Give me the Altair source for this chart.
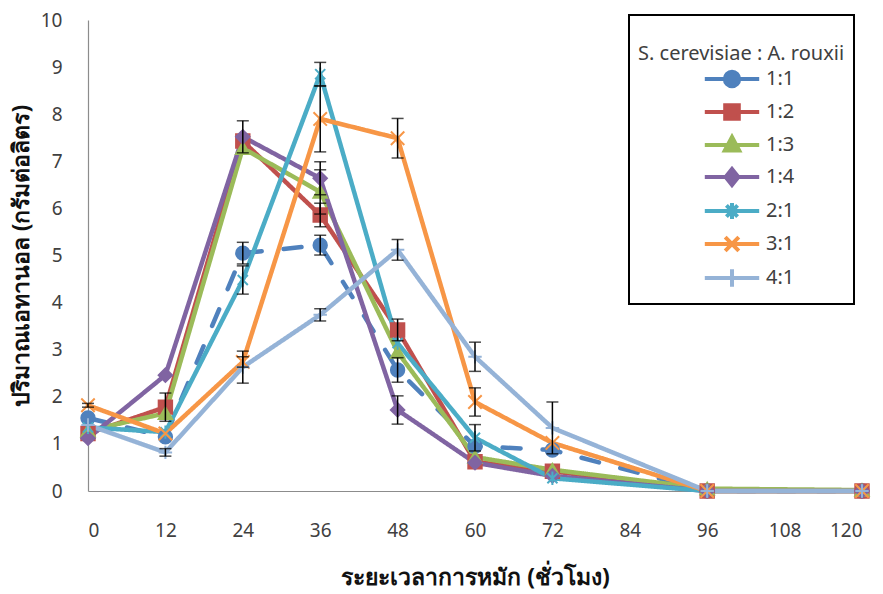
import altair as alt
import pandas as pd

# Sampling times (hours of fermentation)
hours = [0, 12, 24, 36, 48, 60, 72, 96, 120]

# Inoculum ratios S. cerevisiae : A. rouxii
series_names = ["1:1", "1:2", "1:3", "1:4", "2:1", "3:1", "4:1"]
series_colors = ["#4F81BD", "#C0504D", "#9BBB59", "#8064A2", "#4BACC6", "#F79646", "#95B3D7"]

# Ethanol concentration (g/L) per ratio
eth_1_1 = [1.55, 1.15, 5.05, 5.22, 2.57, 0.95, 0.87, 0.0, 0.0]
eth_1_2 = [1.22, 1.78, 7.43, 5.86, 3.42, 0.62, 0.42, 0.0, 0.0]
eth_1_3 = [1.28, 1.65, 7.28, 6.35, 2.95, 0.72, 0.45, 0.05, 0.02]
eth_1_4 = [1.12, 2.46, 7.52, 6.64, 1.72, 0.60, 0.32, 0.0, 0.0]
eth_2_1 = [1.35, 1.25, 4.48, 8.85, 3.14, 1.13, 0.27, 0.0, 0.0]
eth_3_1 = [1.82, 1.22, 2.74, 7.90, 7.49, 1.89, 1.02, 0.0, 0.0]
eth_4_1 = [1.40, 0.82, 2.63, 3.74, 5.12, 2.85, 1.34, 0.0, 0.0]

# Standard deviations (0 = no error bar)
sd_1_1 = [0.0, 0.0, 0.23, 0.21, 0.26, 0.0, 0.0, 0.0, 0.0]
sd_1_2 = [0.0, 0.30, 0.0, 0.25, 0.23, 0.0, 0.0, 0.0, 0.0]
sd_1_3 = [0.0, 0.0, 0.0, 0.47, 0.0, 0.0, 0.0, 0.0, 0.0]
sd_1_4 = [0.0, 0.0, 0.34, 0.35, 0.30, 0.0, 0.0, 0.0, 0.0]
sd_2_1 = [0.0, 0.0, 0.30, 0.25, 0.0, 0.28, 0.0, 0.0, 0.0]
sd_3_1 = [0.04, 0.0, 0.11, 0.70, 0.42, 0.30, 0.0, 0.0, 0.0]
sd_4_1 = [0.0, 0.08, 0.34, 0.13, 0.22, 0.31, 0.55, 0.0, 0.0]

values = [eth_1_1, eth_1_2, eth_1_3, eth_1_4, eth_2_1, eth_3_1, eth_4_1]
errors = [sd_1_1, sd_1_2, sd_1_3, sd_1_4, sd_2_1, sd_3_1, sd_4_1]

rows = []
for name, vals, errs in zip(series_names, values, errors):
    for h, v, e in zip(hours, vals, errs):
        rows.append({"series": name, "hour": h, "ethanol": v,
                     "lo": v - e, "hi": v + e, "sd": e})
df = pd.DataFrame(rows)

FONT = "Noto Sans"

# Marker shapes on the plot
marker_shapes = [
    "circle", "square", "triangle-up", "diamond",
    "M-0.75,-0.75L0.75,0.75M-0.75,0.75L0.75,-0.75M0,-1L0,1",
    "M-1,-1L1,1M-1,1L1,-1",
    "M-1,0L1,0M0,-1L0,1",
]
# Legend symbols: a line segment (wider than the symbol box) with the marker in its middle
seg = "M-3.4,0L3.4,0"
legend_shapes = [
    seg + "M-0.9,0A0.9,0.9 0 1,0 0.9,0A0.9,0.9 0 1,0 -0.9,0Z",
    seg + "M-0.85,-0.85L0.85,-0.85L0.85,0.85L-0.85,0.85Z",
    seg + "M0,-1L0.9,0.7L-0.9,0.7Z",
    seg + "M0,-1L0.8,0L0,1L-0.8,0Z",
    seg + "M-0.7,-0.7L0.7,0.7M-0.7,0.7L0.7,-0.7M0,-1L0,1",
    seg + "M-0.85,-0.85L0.85,0.85M-0.85,0.85L0.85,-0.85",
    seg + "M0,-1.1L0,1.1",
]

color_scale = alt.Scale(domain=series_names, range=series_colors)

x_enc = alt.X(
    "hour:Q",
    scale=alt.Scale(domain=[0, 120], nice=False),
    axis=alt.Axis(values=list(range(0, 121, 12)), title="ระยะเวลาการหมัก (ชั่วโมง)",
                  titleY=86, titleBaseline="middle", labelPadding=30),
)
y_enc = alt.Y(
    "ethanol:Q",
    scale=alt.Scale(domain=[0, 10], nice=False),
    axis=alt.Axis(values=list(range(0, 11)), title="ปริมาณเอทานอล (กรัมต่อลิตร)",
                  titleX=-67, titleBaseline="middle", labelPadding=26),
)

lines = alt.Chart(df).mark_line(strokeWidth=4.5, strokeCap="round", strokeJoin="round").encode(
    x=x_enc,
    y=y_enc,
    color=alt.Color("series:N", scale=color_scale, legend=None),
    strokeDash=alt.StrokeDash(
        "series:N",
        scale=alt.Scale(domain=series_names,
                        range=[[18, 22]] + [[1, 0]] * 6),
        legend=None,
    ),
)

points = alt.Chart(df).mark_point(filled=True, size=180, strokeWidth=2, opacity=1).encode(
    x="hour:Q",
    y="ethanol:Q",
    fill=alt.Fill("series:N", scale=color_scale, legend=None),
    stroke=alt.Stroke("series:N", scale=color_scale, legend=None),
    shape=alt.Shape("series:N", scale=alt.Scale(domain=series_names, range=marker_shapes), legend=None),
)

err_df = df[df["sd"] > 0]
err_base = alt.Chart(err_df)
err_stem = err_base.mark_rule(color="black", strokeWidth=1.5).encode(
    x="hour:Q", y="lo:Q", y2="hi:Q"
)
err_top = err_base.mark_tick(color="black", orient="horizontal", size=12, thickness=1.5).encode(
    x="hour:Q", y="hi:Q"
)
err_bot = err_base.mark_tick(color="black", orient="horizontal", size=12, thickness=1.5).encode(
    x="hour:Q", y="lo:Q"
)

legend_cfg = alt.Legend(
    title=[" ", "S. cerevisiae : A. rouxii"],
    orient="none",
    legendX=541,
    legendY=-5,
    strokeColor="black",
    padding=9,
    titleFont=FONT,
    titleFontSize=20,
    titleFontWeight="normal",
    titleColor="#404040",
    titleLineHeight=20,
    titlePadding=5,
    titleLimit=400,
    labelFont=FONT,
    labelFontSize=20,
    labelColor="#404040",
    symbolSize=256,
    symbolStrokeWidth=4,
    symbolOpacity=1,
    symbolOffset=84,
    labelOffset=24,
    rowPadding=2,
)

legend_layer = alt.Chart(df).transform_filter("false").mark_point(filled=True, opacity=1).encode(
    x="hour:Q",
    y="ethanol:Q",
    fill=alt.Fill("series:N", scale=color_scale, legend=legend_cfg),
    stroke=alt.Stroke("series:N", scale=color_scale, legend=legend_cfg),
    shape=alt.Shape("series:N", scale=alt.Scale(domain=series_names, range=legend_shapes),
                    legend=legend_cfg),
)

chart = alt.layer(lines, points, err_stem, err_top, err_bot, legend_layer).resolve_scale(
    shape="independent", fill="independent", stroke="independent"
).resolve_legend(
    shape="independent", fill="independent", stroke="independent"
).properties(
    width=774,
    height=471,
    autosize=alt.AutoSizeParams(type="none"),
    padding={"left": 88, "top": 20, "right": 21, "bottom": 103},
    background="white",
).configure_view(stroke=None).configure_legend(
    strokeWidth=2,
).configure_axis(
    grid=False,
    ticks=False,
    domainColor="#8c8c8c",
    domainWidth=1.2,
    labelFont=FONT,
    labelFontSize=19,
    labelColor="#404040",
    titleFont=FONT,
    titleFontSize=23,
    titleFontWeight="bold",
    titleColor="#111111",
)

chart.save("out.html", embed_options={"renderer": "svg", "actions": False})
